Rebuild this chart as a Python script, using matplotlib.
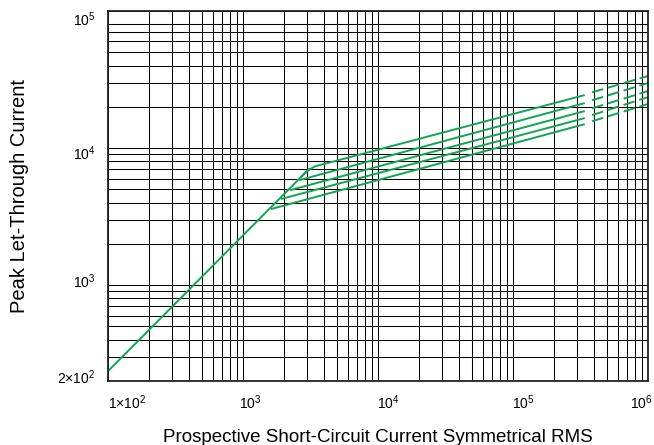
""" Peak let-through current chart (log-log). """

import numpy as np
import matplotlib.pyplot as plt
import matplotlib.transforms as mtransforms
from matplotlib.ticker import LogLocator, FixedLocator, NullFormatter

plt.rcParams['font.family'] = ['Liberation Sans', 'DejaVu Sans']
plt.rcParams['mathtext.fontset'] = 'custom'
plt.rcParams['mathtext.rm'] = 'Liberation Sans'
plt.rcParams['mathtext.it'] = 'Liberation Sans'

# Diagonal (no current limiting): peak = 2.3 x RMS
diag_x = [1e2, 3130]
diag_y = [236, 7140]

# Current-limited curves: knee on diagonal, end of solid part, dashed extension
knee_x = [1610, 1910, 2230, 2600, 3130]
knee_y = [3590, 4250, 4935, 5830, 7140]
solid_end_x = 3.4e5
solid_end_y = [14960, 16550, 18620, 21300, 24370]
dash_x = [3.85e5, 1e6]
dash_start_y = [15700, 17400, 19500, 22300, 25500]
dash_end_y = [20960, 23550, 26060, 29810, 33560]

xticks = [1e2, 1e3, 1e4, 1e5, 1e6]
xticklabels = [r'$1{\times}10^{2}$', r'$10^{3}$', r'$10^{4}$', r'$10^{5}$', r'$10^{6}$']
yticks = [2e2, 1e3, 1e4, 1e5]
yticklabels = [r'$2{\times}10^{2}$', r'$10^{3}$', r'$10^{4}$', r'$10^{5}$']
# horizontal grid: every 1..9 step, but the artwork has no 9e4 line
ygrid = [m * 10.0**e for e in (2, 3, 4) for m in range(1, 10)]
ygrid = [v for v in ygrid if v >= 2e2 and v != 9e4]

GREEN = '#0fa652'

fig = plt.figure(figsize=(6.54, 4.45), dpi=100)
ax = fig.add_axes([108 / 654, 64 / 445, 540 / 654, 370 / 445])
ax.set_xscale('log')
ax.set_yscale('log')
ax.set_xlim(1e2, 1e6)
ax.set_ylim(2e2, 1e5)

# diagonal
ax.plot(diag_x, diag_y, color=GREEN, lw=1.4, solid_capstyle='butt')
# limited curves
for i in range(len(knee_x)):
    xs = [knee_x[i], solid_end_x]
    ys = [knee_y[i], solid_end_y[i]]
    if i == len(knee_x) - 1:
        # rounded transition for the top curve
        xs = [2650, 2950, 3400, solid_end_x]
        ys = [6050, 6750, 7350, solid_end_y[i]]
    ax.plot(xs, ys, color=GREEN, lw=1.4, solid_capstyle='butt')
    ax.plot(dash_x, [dash_start_y[i], dash_end_y[i]], color=GREEN, lw=1.4,
            ls=(0, (6, 2.5)), dash_capstyle='butt')

# grid
ax.xaxis.set_major_locator(FixedLocator(xticks))
ax.yaxis.set_major_locator(FixedLocator(yticks))
ax.xaxis.set_minor_locator(LogLocator(base=10, subs=np.arange(2, 10)))
ax.yaxis.set_minor_locator(FixedLocator(ygrid))
ax.xaxis.set_minor_formatter(NullFormatter())
ax.yaxis.set_minor_formatter(NullFormatter())
ax.set_xticklabels(xticklabels)
ax.set_yticklabels(yticklabels)
ax.grid(True, which='both', color='black', lw=0.75)
ax.set_axisbelow(True)
ax.tick_params(which='both', length=0, labelsize=10, pad=9)

# small per-label nudges, like the original artwork
x_shift = [0, 7, 10, 10, 0]
for lab, dx in zip(ax.get_xticklabels(), x_shift):
    lab.set_transform(lab.get_transform() +
                      mtransforms.ScaledTranslation(dx / 100, 0, fig.dpi_scale_trans))
xl = ax.get_xticklabels()
xl[0].set_ha('left')
xl[-1].set_ha('right')
xl[-1].set_transform(xl[-1].get_transform() +
                     mtransforms.ScaledTranslation(5 / 100, 0, fig.dpi_scale_trans))
y_shift = [5, 5, -4, -7]
for lab, dy in zip(ax.get_yticklabels(), y_shift):
    lab.set_transform(lab.get_transform() +
                      mtransforms.ScaledTranslation(0, dy / 100, fig.dpi_scale_trans))

for sp in ax.spines.values():
    sp.set_linewidth(1.3)
    sp.set_color('#222222')

ax.set_xlabel('Prospective Short-Circuit Current Symmetrical RMS', fontsize=13.5, labelpad=12)
ax.set_ylabel('Peak Let-Through Current', fontsize=14.5, labelpad=20)

fig.savefig('out.png', dpi=100)
